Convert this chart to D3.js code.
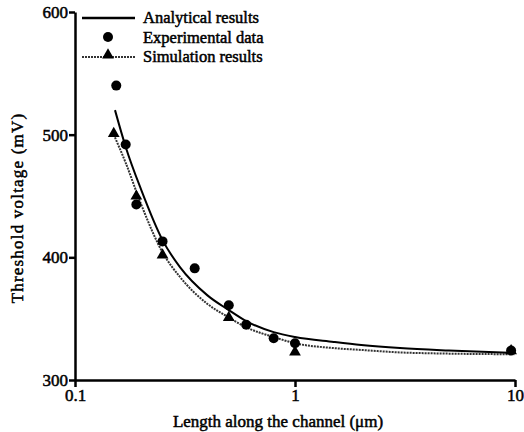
<!DOCTYPE html>
<html>
<head>
<meta charset="utf-8">
<script src="https://cdn.jsdelivr.net/npm/d3@7"></script>
<style>
  body { margin: 0; background: #fff; }
</style>
</head>
<body>
<script>
let width = 524;
let height = 432;
let serif = "Liberation Serif";

// analytical curve
let analyticalX = [0.152, 0.17, 0.2, 0.25, 0.3, 0.4, 0.5, 0.6, 0.8, 1, 1.5, 2, 3, 5, 10];
let analyticalY = [520, 490, 455, 414, 392, 369, 357, 348, 339, 335, 331, 328.5, 326, 324, 322];

// simulation curve
let simulationX = [0.15, 0.17, 0.2, 0.25, 0.3, 0.4, 0.5, 0.6, 0.8, 1, 1.5, 2, 3, 5, 10];
let simulationY = [500, 477, 443, 404, 384, 362, 351, 343, 335, 330, 326, 324.5, 322.5, 321.5, 321];

// markers
let experimentalX = [0.154, 0.17, 0.19, 0.25, 0.35, 0.5, 0.6, 0.8, 1, 9.6];
let experimentalY = [540, 492, 443, 413, 391, 361, 345, 334, 330, 324];
let simMarkX = [0.15, 0.19, 0.25, 0.5, 1, 9.6];
let simMarkY = [500, 449, 401, 350, 322, 323];

let xTicks = [0.1, 1, 10];
let xTickLabels = ["0.1", "1", "10"];
let yTicks = [300, 400, 500, 600];

let legendLabels = ["Analytical results", "Experimental data", "Simulation results"];

let svg = d3.select("body").append("svg")
            .attr("width", width)
            .attr("height", height);

let x = d3.scaleLog().domain([0.1, 10]).range([75, 515]);
let y = d3.scaleLinear().domain([300, 600]).range([380, 12]);

let line = d3.line()
             .x(function (d) { return x(d[0]); })
             .y(function (d) { return y(d[1]); })
             .curve(d3.curveMonotoneX);

let analytical = d3.zip(analyticalX, analyticalY);
let simulation = d3.zip(simulationX, simulationY);

svg.append("path").datum(simulation)
   .attr("d", line)
   .attr("fill", "none")
   .attr("stroke", "#333")
   .attr("stroke-width", 2)
   .attr("stroke-dasharray", "2,1");

svg.append("path").datum(analytical)
   .attr("d", line)
   .attr("fill", "none")
   .attr("stroke", "#000")
   .attr("stroke-width", 2);

svg.selectAll("circle.exp").data(d3.zip(experimentalX, experimentalY)).enter()
   .append("circle")
   .attr("class", "exp")
   .attr("cx", function (d) { return x(d[0]); })
   .attr("cy", function (d) { return y(d[1]); })
   .attr("r", 5)
   .attr("fill", "#000");

let tri = d3.symbol().type(d3.symbolTriangle).size(60);
svg.selectAll("path.sim").data(d3.zip(simMarkX, simMarkY)).enter()
   .append("path")
   .attr("class", "sim")
   .attr("d", tri)
   .attr("transform", function (d) { return "translate(" + x(d[0]) + "," + (y(d[1]) - 1) + ")"; })
   .attr("fill", "#000");

// heavy-looking serif text
function styleText(sel, size) {
  sel.attr("font-family", serif)
     .attr("font-size", size)
     .attr("fill", "#000")
     .attr("stroke", "#000")
     .attr("stroke-width", 0.5);
}

// axes
let xAxis = svg.append("g")
   .attr("transform", "translate(0,380)")
   .call(d3.axisBottom(x).tickValues(xTicks)
           .tickFormat(function (d, i) { return xTickLabels[i]; })
           .tickSizeInner(7).tickSizeOuter(0).tickPadding(2));

let yAxis = svg.append("g")
   .attr("transform", "translate(75,0)")
   .call(d3.axisLeft(y).tickValues(yTicks)
           .tickSizeInner(6).tickSizeOuter(0).tickPadding(1));

[xAxis, yAxis].forEach(function (a) {
  a.select(".domain").attr("stroke-width", 2.5);
  a.selectAll(".tick line").attr("stroke-width", 2.5);
  a.selectAll(".tick text").call(styleText, 17);
});

svg.append("text")
   .attr("x", 278)
   .attr("y", 427)
   .attr("text-anchor", "middle")
   .call(styleText, 17)
   .text("Length along the channel (\u03bcm)");

svg.append("text")
   .attr("transform", "translate(23,208) rotate(-90)")
   .attr("text-anchor", "middle")
   .call(styleText, 17)
   .attr("letter-spacing", 1.2)
   .text("Threshold voltage (mV)");

// legend
let legend = svg.append("g");
legend.append("line")
      .attr("x1", 82).attr("x2", 135).attr("y1", 18).attr("y2", 18)
      .attr("stroke", "#000").attr("stroke-width", 2.5);
legend.append("circle")
      .attr("cx", 108).attr("cy", 37).attr("r", 5).attr("fill", "#000");
legend.append("line")
      .attr("x1", 82).attr("x2", 135).attr("y1", 57).attr("y2", 57)
      .attr("stroke", "#333").attr("stroke-width", 2)
      .attr("stroke-dasharray", "2,1");
legend.append("path")
      .attr("d", tri)
      .attr("transform", "translate(108,55)")
      .attr("fill", "#000");
legend.selectAll("text").data(legendLabels).enter()
      .append("text")
      .attr("x", 143)
      .attr("y", function (d, i) { return 23 + i * 19.5; })
      .call(styleText, 16.5)
      .text(function (d) { return d; });
</script>
</body>
</html>
